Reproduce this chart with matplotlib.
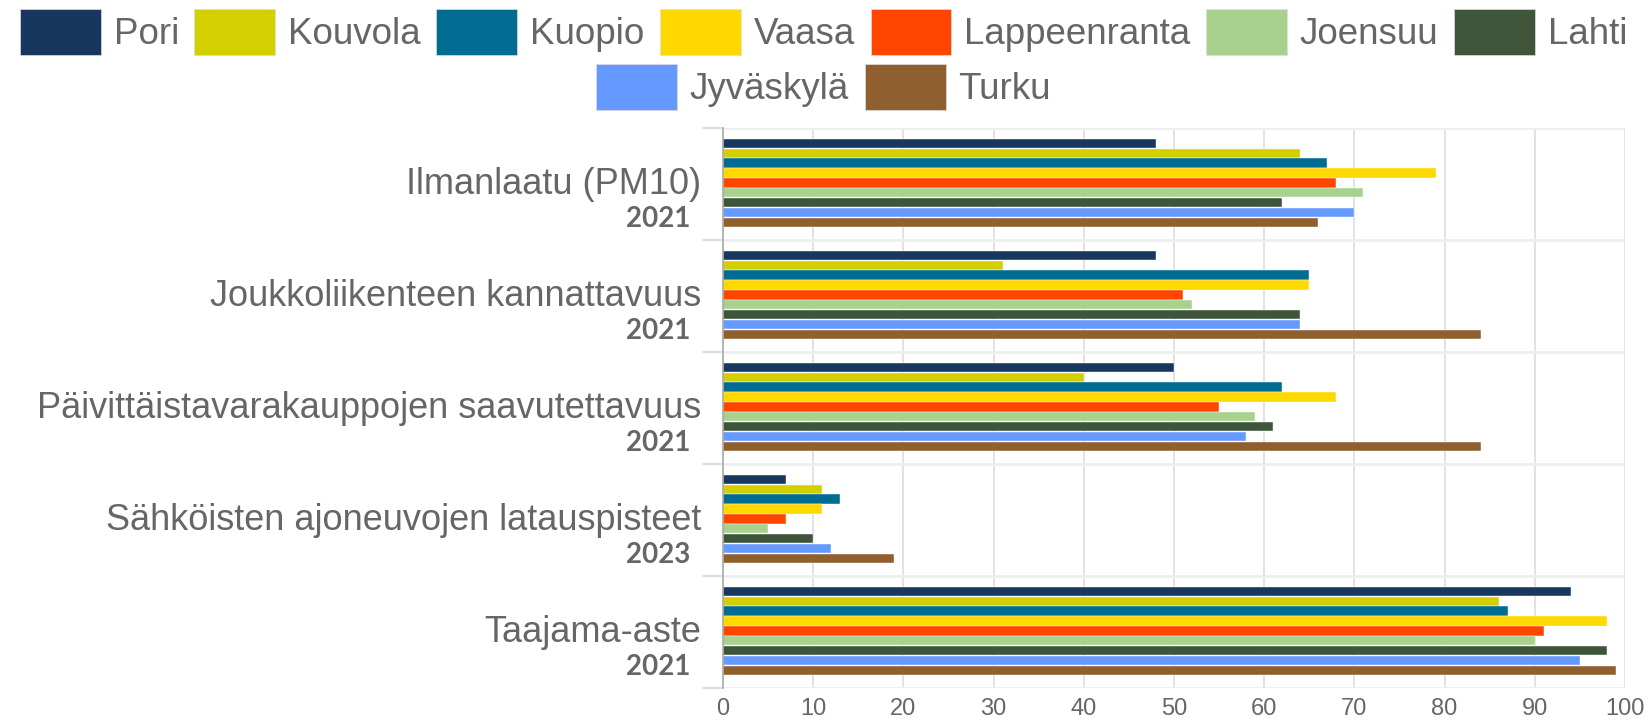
import numpy as np
import matplotlib
matplotlib.use("Agg")
import matplotlib.pyplot as plt
from matplotlib.patches import Patch
from matplotlib.transforms import blended_transform_factory, ScaledTranslation

# Data
categories = [
    "Ilmanlaatu (PM10)",
    "Joukkoliikenteen kannattavuus",
    "Päivittäistavarakauppojen saavutettavuus",
    "Sähköisten ajoneuvojen latauspisteet",
    "Taajama-aste",
]
years = ["2021", "2021", "2021", "2023", "2021"]
cities = ["Pori", "Kouvola", "Kuopio", "Vaasa", "Lappeenranta",
          "Joensuu", "Lahti", "Jyväskylä", "Turku"]
city_colors = ["#17375E", "#D4CF00", "#006C92", "#FFD800", "#FF4500",
               "#A9D18E", "#3E553A", "#6699FF", "#8F5F30"]

pori = [48, 48, 50, 7, 94]
kouvola = [64, 31, 40, 11, 86]
kuopio = [67, 65, 62, 13, 87]
vaasa = [79, 65, 68, 11, 98]
lappeenranta = [68, 51, 55, 7, 91]
joensuu = [71, 52, 59, 5, 90]
lahti = [62, 64, 61, 10, 98]
jyvaskyla = [70, 64, 58, 12, 95]
turku = [66, 84, 84, 19, 99]
series = [pori, kouvola, kuopio, vaasa, lappeenranta, joensuu, lahti, jyvaskyla, turku]

text_grey = "#666666"
grid_grey = "#DDDDDD"

plt.rcParams["font.family"] = ["Liberation Sans", "DejaVu Sans"]

fig = plt.figure(figsize=(16.47, 7.24), dpi=100)
ax = fig.add_axes([723 / 1647, 36 / 724, 902 / 1647, 560 / 724])

n = len(cities)
pitch = 0.088
bar_h = 0.084
y_base = np.arange(len(categories)) - 0.01
for j, (vals, col) in enumerate(zip(series, city_colors)):
    ax.barh(y_base + (j - (n - 1) / 2) * pitch, vals, height=bar_h,
            color=col, edgecolor="white", linewidth=0.3, zorder=3)

ax.set_xlim(0, 100)
ax.set_ylim(len(categories) - 0.5, -0.5)
ax.set_xticks(np.arange(0, 101, 10))
ax.tick_params(axis="x", length=0, labelsize=17, labelcolor=text_grey, pad=7)

# group separators
ax.set_yticks([])
ax.set_yticks(np.arange(-0.5, len(categories)), minor=True)
ax.tick_params(axis="y", which="minor", length=15, color=grid_grey, width=1.5)
ax.grid(True, axis="x", color=grid_grey, linewidth=1.2, zorder=0)
ax.grid(True, axis="y", which="minor", color="#EEEEEE", linewidth=2, zorder=0)

for s in ["top", "right", "bottom"]:
    ax.spines[s].set_visible(False)
ax.spines["left"].set_color("#AAAAAA")
ax.spines["left"].set_linewidth(1.2)
ax.spines["left"].set_zorder(4)

# category labels + years
trans = blended_transform_factory(ax.transAxes, ax.transData)
for k, (cat, yr) in enumerate(zip(categories, years)):
    ax.text(0, k, cat, transform=trans + ScaledTranslation(-22 / 100, 0, fig.dpi_scale_trans),
            ha="right", va="center", fontsize=26, color=text_grey)
    ax.text(0, k, yr, transform=trans + ScaledTranslation(-33 / 100, -35 / 100, fig.dpi_scale_trans),
            ha="right", va="center", fontsize=20, fontweight="bold",
            color=text_grey, family=["Lato", "DejaVu Sans"])

# legend in two centred rows
handles = [Patch(facecolor=c, edgecolor="#DDDDDD", linewidth=0.5) for c in city_colors]
kw = dict(frameon=False, fontsize=26.5, labelcolor=text_grey, handlelength=2.2,
          handleheight=1.55, handletextpad=0.35, columnspacing=0.42, borderaxespad=0)
fig.legend(handles[:7], cities[:7], ncol=7, loc="center", bbox_to_anchor=(0.5, 1 - 32 / 724), **kw)
fig.legend(handles[7:], cities[7:], ncol=2, loc="center", bbox_to_anchor=(0.5, 1 - 87 / 724), **kw)

fig.savefig("out.png", dpi=100)
